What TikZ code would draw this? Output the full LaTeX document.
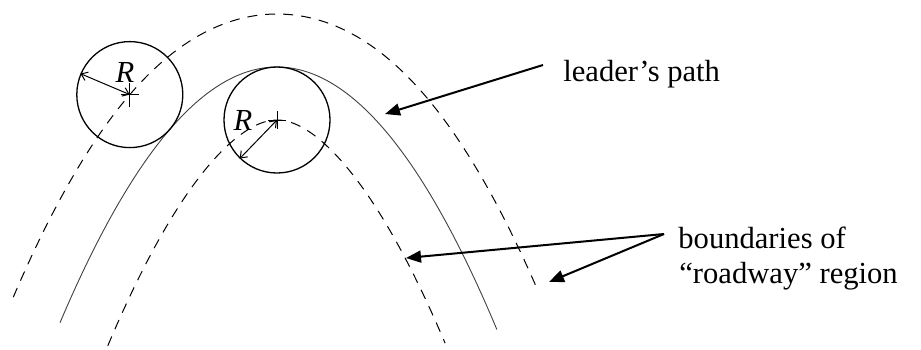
\documentclass[tikz,border=0pt]{standalone}
\usepackage{fontspec}
\setmainfont{Liberation Serif}
\usetikzlibrary{arrows.meta}
\begin{document}
\begin{tikzpicture}[x=0.5pt,y=-0.5pt,
  bound/.style={line width=0.5pt, dash pattern=on 5pt off 4pt},
  leader/.style={line width=0.45pt, black!75},
  roundc/.style={circle, draw, line width=0.65pt, minimum size=53pt, inner sep=0pt},
  radius/.style={line width=0.5pt, {Straight Barb[length=3pt,width=4.5pt]}-{Straight Barb[length=3pt,width=4.5pt]}},
  callout/.style={line width=1pt, -{Triangle[length=7.5pt,width=6pt]}},
  lbl/.style={font=\fontsize{15.3}{17.5}\selectfont, inner sep=0pt},
  rl/.style={font=\fontsize{15.3}{17.5}\selectfont\itshape, inner sep=0pt},
  cross/.style={line width=0.5pt}]
\useasboundingbox (0,0) rectangle (921,349);
% leader's path
\draw[leader] plot[domain=-2.17:2.20, samples=120, variable=\s] ({277+100*\s},{67+54.3*\s*\s});
% outer boundary
\draw[bound] plot[domain=-2.15:2.10, samples=120, variable=\s]
  ({277+100*\s+57.558*\s/sqrt(1+1.1794*\s*\s)},{67+54.3*\s*\s-53/sqrt(1+1.1794*\s*\s)});
% inner boundary
\draw[bound] plot[domain=-2.18:2.17, samples=120, variable=\s]
  ({277+100*\s-57.558*\s/sqrt(1+1.1794*\s*\s)},{67+54.3*\s*\s+53/sqrt(1+1.1794*\s*\s)});
% circles
\coordinate (c1) at (129.8,94.6);
\coordinate (c2) at (277,120);
\node[roundc] (circ1) at (c1) {};
\node[roundc] (circ2) at (c2) {};
\draw[cross] (c1) ++(-9,0) -- ++(18,0) (c1) ++(0,-12) -- ++(0,24);
\draw[cross] (c2) ++(-9,0) -- ++(18,0) (c2) ++(0,-9) -- ++(0,18);
\draw[radius] (circ1.157) -- (c1);
\draw[radius] (circ2.226) -- (c2);
\node[rl] (r1) at (125,72) {R};
\node[rl] (r2) at (243,120) {R};
% texts
\node[lbl, anchor=base west] (tl) at (563,81) {leader’s path};
\node[lbl, anchor=base west] (tb1) at (678,248) {boundaries of};
\node[lbl, anchor=base west] (tb2) at (679,283) {“roadway” region};
% callouts
\coordinate (lt) at (543,65);
\coordinate (lh) at (385,114);
\coordinate (bt) at (664,234);
\coordinate (bh1) at (406,258);
\coordinate (bh2) at (549,282);
\draw[callout] (lt) -- (lh);
\draw[callout] (bt) -- (bh1);
\draw[callout] (bt) -- (bh2);
\end{tikzpicture}
\end{document}
